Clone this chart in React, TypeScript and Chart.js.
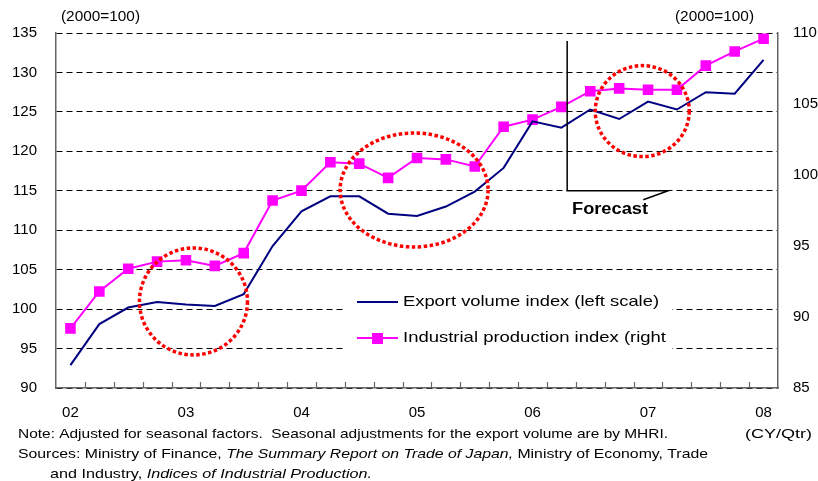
import React, { useEffect, useRef } from "react";
import { Chart, registerables } from "chart.js";
Chart.register(...registerables);

// ---- data ----
const quarters = [
  "02Q1", "02Q2", "02Q3", "02Q4",
  "03Q1", "03Q2", "03Q3", "03Q4",
  "04Q1", "04Q2", "04Q3", "04Q4",
  "05Q1", "05Q2", "05Q3", "05Q4",
  "06Q1", "06Q2", "06Q3", "06Q4",
  "07Q1", "07Q2", "07Q3", "07Q4",
  "08Q1",
];
const yearLabels = ["02", "03", "04", "05", "06", "07", "08"];
const exportVolume = [
  92.9, 98.1, 100.2, 100.9, 100.6, 100.4, 101.9, 108.0, 112.4, 114.3, 114.3, 112.1,
  111.8, 113.0, 114.9, 117.9, 123.8, 123.0, 125.3, 124.1, 126.3, 125.3, 127.5, 127.3, 131.6,
];
const industrialProduction = [
  89.2, 91.8, 93.4, 93.9, 94.0, 93.6, 94.5, 98.2, 98.9, 100.9, 100.8, 99.8,
  101.2, 101.1, 100.6, 103.4, 103.9, 104.8, 105.9, 106.1, 106.0, 106.0, 107.7, 108.7, 109.6,
];
const seriesLabels = ["Export volume index (left scale)", "Industrial production index (right"];
const unitLabel = "(2000=100)";
const xUnitLabel = "(CY/Qtr)";
const forecastLabel = "Forecast";
// highlighted circles: centre as [category index, left-scale value]
const circleCenters = [
  [4.26, 100.97],
  [11.9, 115.1],
  [19.8, 125.1],
];
// forecast bracket: [start index, end index], [top value, bottom value] (left scale)
const forecastX = [17.2, 20.7];
const forecastY = [134.0, 115.0];
const noteLine = "Note: Adjusted for seasonal factors.  Seasonal adjustments for the export volume are by MHRI.";
const sourcesLine1 = [
  { t: "Sources: Ministry of Finance, ", i: false },
  { t: "The Summary Report on Trade of Japan,", i: true },
  { t: " Ministry of Economy, Trade", i: false },
];
const sourcesLine2 = [
  { t: "and Industry, ", i: false },
  { t: "Indices of Industrial Production.", i: true },
];

const FONT = "'Liberation Sans', Arial, sans-serif";
const NAVY = "#000080";
const PINK = "#ff00ff";

function drawSegments(ctx: CanvasRenderingContext2D, segs: { t: string; i: boolean }[], x: number, y: number, size: number, targetW: number) {
  let total = 0;
  for (const s of segs) {
    ctx.font = `${s.i ? "italic " : ""}${size}px ${FONT}`;
    total += ctx.measureText(s.t).width;
  }
  const k = targetW / total;
  ctx.save();
  ctx.translate(x, y);
  ctx.scale(k, 1);
  ctx.textAlign = "left";
  ctx.textBaseline = "middle";
  ctx.fillStyle = "#000";
  let cx = 0;
  for (const s of segs) {
    ctx.font = `${s.i ? "italic " : ""}${size}px ${FONT}`;
    ctx.fillText(s.t, cx, 0);
    cx += ctx.measureText(s.t).width;
  }
  ctx.restore();
}

const overlay = {
  id: "overlay",
  beforeDatasetsDraw(chart: any) {
    const ctx = chart.ctx as CanvasRenderingContext2D;
    ctx.save();
    ctx.fillStyle = "#fff";
    ctx.fillRect(345, 283, 327, 74);
    ctx.restore();
  },
  afterDatasetsDraw(chart: any) {
    const ctx = chart.ctx as CanvasRenderingContext2D;
    const xs = chart.scales.x;
    const ys = chart.scales.y;
    const area = chart.chartArea;
    ctx.save();

    // x tick marks (inward, at category boundaries)
    ctx.strokeStyle = "#666";
    ctx.lineWidth = 1.2;
    for (let i = 1; i < quarters.length; i++) {
      const px = Math.round((xs.getPixelForValue(i - 1) + xs.getPixelForValue(i)) / 2) + 0.5;
      ctx.beginPath();
      ctx.moveTo(px, area.bottom);
      ctx.lineTo(px, area.bottom - 6);
      ctx.stroke();
    }

    // red dotted circles
    const radii = [[54, 53.5], [74, 57], [47, 45.5]];
    ctx.strokeStyle = "#ff0000";
    ctx.lineWidth = 3.5;
    ctx.setLineDash([3.5, 2.5]);
    circleCenters.forEach((c, k) => {
      const cx = xs.getPixelForValue(c[0]);
      const cy = ys.getPixelForValue(c[1]);
      ctx.beginPath();
      ctx.ellipse(cx, cy, radii[k][0], radii[k][1], 0, 0, Math.PI * 2);
      ctx.stroke();
    });
    ctx.setLineDash([]);

    // forecast bracket
    const fx0 = xs.getPixelForValue(forecastX[0]);
    const fx1 = xs.getPixelForValue(forecastX[1]);
    const fy0 = ys.getPixelForValue(forecastY[0]);
    const fy1 = ys.getPixelForValue(forecastY[1]);
    ctx.strokeStyle = "#000";
    ctx.lineWidth = 1.5;
    ctx.beginPath();
    ctx.moveTo(fx0, fy0);
    ctx.lineTo(fx0, fy1);
    ctx.lineTo(fx1, fy1);
    ctx.lineTo(fx1 - 25, fy1 + 9);
    ctx.stroke();
    ctx.save();
    ctx.font = `bold 16px ${FONT}`;
    const fw = ctx.measureText(forecastLabel).width;
    ctx.translate(610, 210);
    ctx.scale(76 / fw, 1);
    ctx.fillStyle = "#000";
    ctx.textAlign = "center";
    ctx.textBaseline = "middle";
    ctx.fillText(forecastLabel, 0, 0);
    ctx.restore();

    // legend
    ctx.lineWidth = 2;
    ctx.strokeStyle = NAVY;
    ctx.beginPath();
    ctx.moveTo(357, 302);
    ctx.lineTo(398, 302);
    ctx.stroke();
    ctx.strokeStyle = PINK;
    ctx.beginPath();
    ctx.moveTo(357, 338);
    ctx.lineTo(398, 338);
    ctx.stroke();
    ctx.fillStyle = PINK;
    ctx.fillRect(372, 333, 11, 11);
    drawSegments(ctx, [{ t: seriesLabels[0], i: false }], 403, 302, 15, 256);
    drawSegments(ctx, [{ t: seriesLabels[1], i: false }], 403, 338, 15, 263);

    // unit labels
    drawSegments(ctx, [{ t: unitLabel, i: false }], 61, 17, 15, 79);
    drawSegments(ctx, [{ t: unitLabel, i: false }], 675, 17, 15, 79);

    // notes
    drawSegments(ctx, [{ t: noteLine, i: false }], 18, 434, 13.5, 650);
    drawSegments(ctx, [{ t: xUnitLabel, i: false }], 745, 434, 13.5, 67);
    drawSegments(ctx, sourcesLine1, 18, 454, 13.5, 690);
    drawSegments(ctx, sourcesLine2, 50, 474, 13.5, 322);

    ctx.restore();
  },
};

export default function App() {
  const ref = useRef<HTMLCanvasElement | null>(null);
  useEffect(() => {
    if (!ref.current) return;
    const tickFont = { family: FONT, size: 15 };
    const chart = new Chart(ref.current, {
      type: "line",
      data: {
        labels: quarters,
        datasets: [
          {
            label: seriesLabels[0],
            data: exportVolume,
            yAxisID: "y",
            borderColor: NAVY,
            backgroundColor: NAVY,
            borderWidth: 2,
            pointRadius: 0,
            tension: 0,
          },
          {
            label: seriesLabels[1],
            data: industrialProduction,
            yAxisID: "y1",
            borderColor: PINK,
            backgroundColor: PINK,
            borderWidth: 2,
            pointStyle: "rect",
            pointRadius: 7.5,
            pointBorderWidth: 0,
            tension: 0,
          },
        ],
      },
      options: {
        responsive: false,
        animation: false,
        devicePixelRatio: 1,
        layout: { padding: { top: 33, left: 0, right: 0, bottom: 0 } },
        plugins: { legend: { display: false }, tooltip: { enabled: false } },
        scales: {
          x: {
            type: "category",
            offset: true,
            grid: { display: false, drawTicks: false },
            border: { display: true, color: "#666", width: 1.5 },
            ticks: {
              autoSkip: false,
              maxRotation: 0,
              padding: 16,
              color: "#000",
              font: tickFont,
              callback: (_v: any, i: number) => (i % 4 === 0 ? yearLabels[i / 4] : ""),
            },
            afterFit: (s: any) => {
              s.height = 93;
            },
          },
          y: {
            position: "left",
            min: 90,
            max: 135,
            ticks: { stepSize: 5, padding: 19, color: "#000", font: tickFont },
            grid: { color: "#000", lineWidth: 1, drawTicks: false },
            border: { display: true, color: "#666", width: 1.5, dash: [6, 4] },
            afterFit: (s: any) => {
              s.width = 56;
            },
          },
          y1: {
            position: "right",
            min: 85,
            max: 110,
            ticks: { stepSize: 5, padding: 15, color: "#000", font: tickFont },
            grid: { display: false, drawTicks: false },
            border: { display: true, color: "#666", width: 1.5 },
            afterFit: (s: any) => {
              s.width = 40;
            },
          },
        },
      },
      plugins: [overlay],
    });
    return () => chart.destroy();
  }, []);
  return (
    <div style={{ position: "absolute", left: 0, top: 0, width: 818, height: 481, background: "#fff" }}>
      <canvas ref={ref} width={818} height={481} />
    </div>
  );
}
